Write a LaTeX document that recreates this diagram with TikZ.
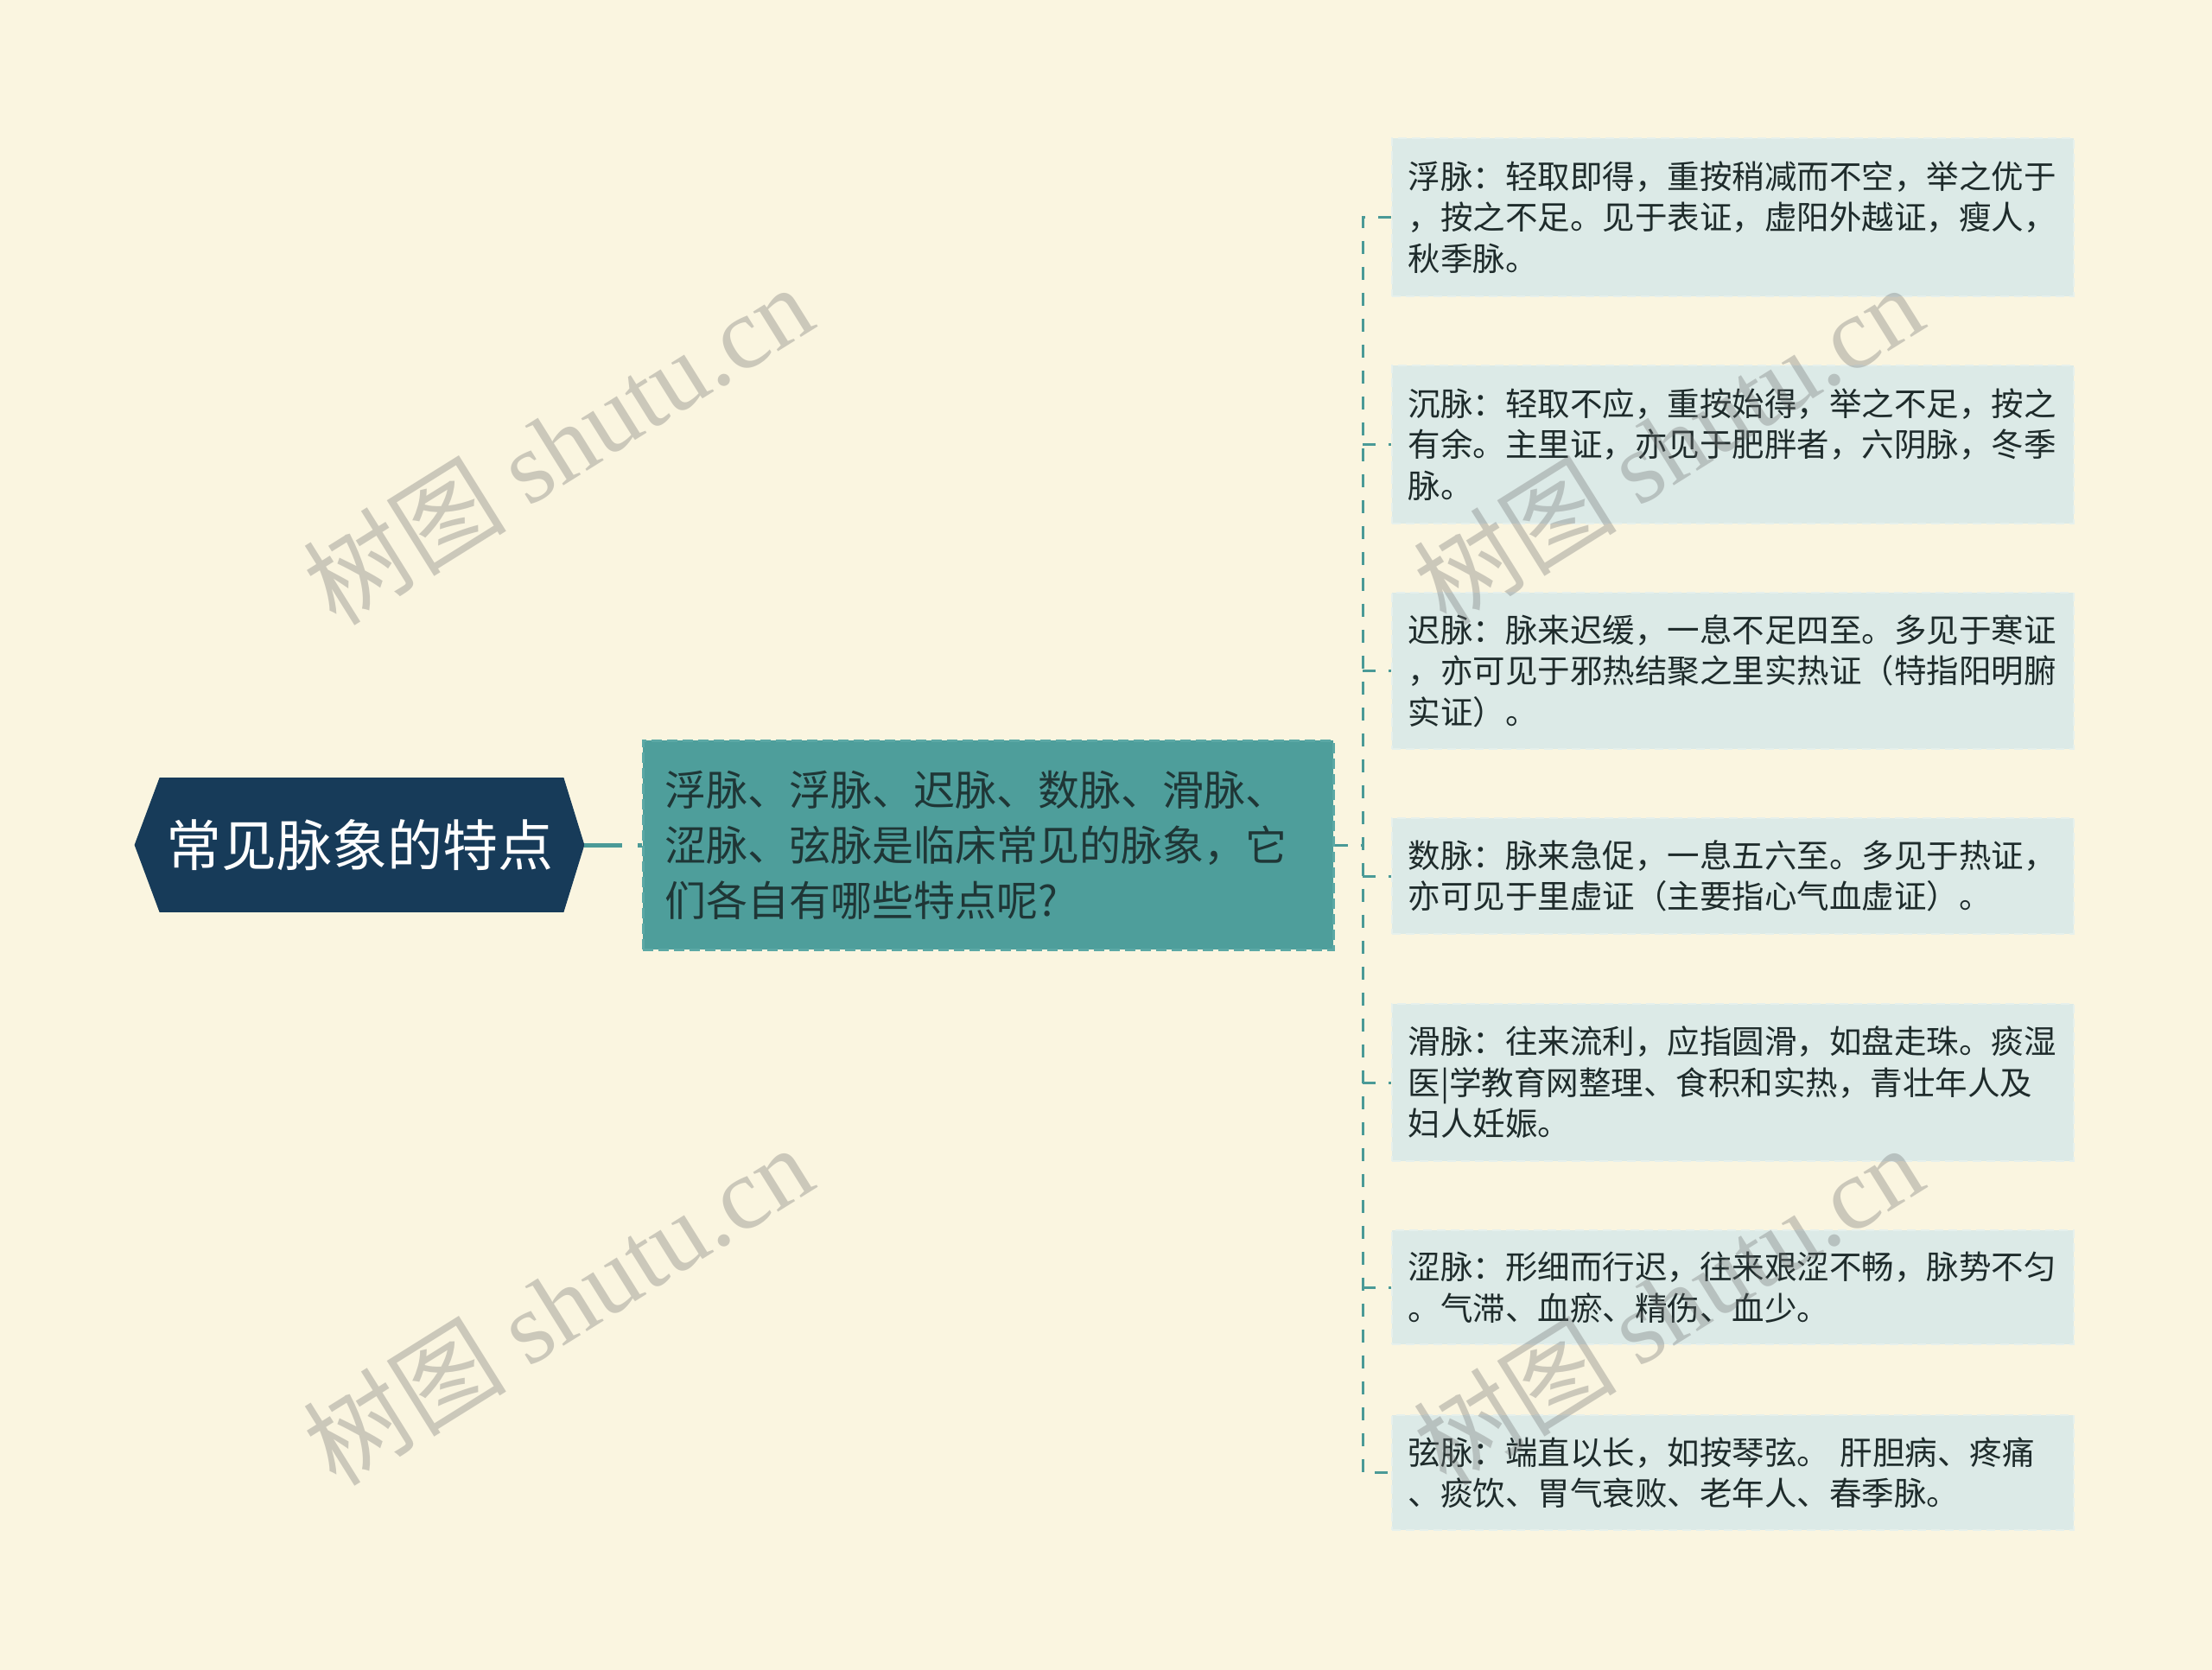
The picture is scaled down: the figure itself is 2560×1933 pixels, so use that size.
\documentclass[tikz,border=0pt]{standalone}
\usepackage{fontspec}
\newfontfamily\cjk{Noto Sans CJK SC}
\newfontfamily\wmlat{Liberation Serif}
\usetikzlibrary{backgrounds}
\definecolor{bgc}{HTML}{FAF5E0}
\definecolor{rootc}{HTML}{173B59}
\definecolor{midc}{HTML}{4E9E9B}
\definecolor{midborder}{HTML}{5BA8A5}
\definecolor{leafc}{HTML}{DCEAE7}
\definecolor{leafborder}{HTML}{E6F0EC}
\definecolor{connc}{HTML}{4A9A97}
\definecolor{leaftext}{HTML}{1E2B2B}
\definecolor{midtext}{HTML}{1F3636}
\definecolor{wmc}{HTML}{6E6E6E}
\pgfdeclarelayer{bottom}
\pgfsetlayers{bottom,background,main}
\tikzset{
  rootbox/.style={inner sep=0pt, minimum width=260pt, minimum height=77.5pt,
    text=white, font=\cjk\fontsize{32pt}{38pt}\selectfont},
  midbox/.style={fill=midc, draw=midborder, line width=1.5pt, dash pattern=on 6pt off 3pt,
    text width=374.5pt, inner xsep=12.5pt, inner ysep=0pt, minimum height=121pt,
    align=left, text=midtext, font=\cjk\fontsize{24pt}{32pt}\selectfont},
  leafbox/.style={fill=leafc, draw=leafborder, line width=1pt, dash pattern=on 5pt off 3pt,
    text width=376pt, inner xsep=9.25pt, inner ysep=0pt,
    align=left, text=leaftext, font=\cjk\fontsize{18.75pt}{23.75pt}\selectfont},
  conn/.style={draw=connc, line width=2.5pt, dash pattern=on 22pt off 9pt},
  dconn/.style={draw=connc, line width=1.5pt, dash pattern=on 7.5pt off 7.5pt},
  wm/.style={text=wmc, opacity=0.33, rotate=32, inner sep=0pt}
}
\begin{document}
\begin{tikzpicture}[x=0.5pt,y=-0.5pt]
\begin{pgfonlayer}{bottom}
\fill[bgc] (0,0) rectangle (2560,1933);
\end{pgfonlayer}
\useasboundingbox (0,0) rectangle (2560,1933);

% root
\node[rootbox] (root) at (416,978) {常见脉象的特点};
\begin{pgfonlayer}{background}
\fill[rootc] (root.west) -- ([xshift=14.5pt]root.north west) -- ([xshift=-12pt]root.north east)
  -- (root.east) -- ([xshift=-12pt]root.south east) -- ([xshift=14.5pt]root.south west) -- cycle;
\end{pgfonlayer}

% middle
\node[midbox] (mid) at (1143.5,978) {浮脉、浮脉、迟脉、数脉、滑脉、\\涩脉、弦脉是临床常见的脉象，它\\们各自有哪些特点呢?};

% leaves
\node[leafbox, minimum height=91.5pt] (l1) at (2005.5,251.5) {浮脉：轻取即得，重按稍减而不空，举之优于\\，按之不足。见于表证，虚阳外越证，瘦人，\\秋季脉。};
\node[leafbox, minimum height=91.5pt] (l2) at (2005.5,514.5) {沉脉：轻取不应，重按始得，举之不足，按之\\有余。主里证，亦见于肥胖者，六阴脉，冬季\\脉。};
\node[leafbox, minimum height=90.5pt] (l3) at (2005.5,776.5) {迟脉：脉来迟缓，一息不足四至。多见于寒证\\，亦可见于邪热结聚之里实热证（特指阳明腑\\实证）。};
\node[leafbox, minimum height=67pt] (l4) at (2005.5,1014) {数脉：脉来急促，一息五六至。多见于热证，\\亦可见于里虚证（主要指心气血虚证）。};
\node[leafbox, minimum height=91pt] (l5) at (2005.5,1253) {滑脉：往来流利，应指圆滑，如盘走珠。痰湿\\医|学教育网整理、食积和实热，青壮年人及\\妇人妊娠。};
\node[leafbox, minimum height=66pt] (l6) at (2005.5,1490) {涩脉：形细而行迟，往来艰涩不畅，脉势不匀\\。气滞、血瘀、精伤、血少。};
\node[leafbox, minimum height=66.5pt] (l7) at (2005.5,1704.5) {弦脉：端直以长，如按琴弦。 肝胆病、疼痛\\、痰饮、胃气衰败、老年人、春季脉。};

% connectors
\coordinate (sp) at (1577,978);
\begin{pgfonlayer}{background}
\draw[conn] (root.east) -- (mid.west);
\draw[dconn] (mid.east) -- (sp);
\draw[dconn] (l1.west) -- (l1.west -| sp) -- (l7.west -| sp) -- (l7.west);
\foreach \n in {l2,l3,l4,l5,l6} { \draw[dconn] (\n.west -| sp) -- (\n.west); }
\end{pgfonlayer}

% watermarks
\node[wm] (w1) at (645,514) {\cjk\fontsize{59pt}{62pt}\selectfont 树图 \wmlat shutu.cn};
\node[wm] (w2) at (645,1510) {\cjk\fontsize{59pt}{62pt}\selectfont 树图 \wmlat shutu.cn};
\node[wm] (w3) at (1930,514) {\cjk\fontsize{59pt}{62pt}\selectfont 树图 \wmlat shutu.cn};
\node[wm] (w4) at (1930,1510) {\cjk\fontsize{59pt}{62pt}\selectfont 树图 \wmlat shutu.cn};
\end{tikzpicture}
\end{document}
